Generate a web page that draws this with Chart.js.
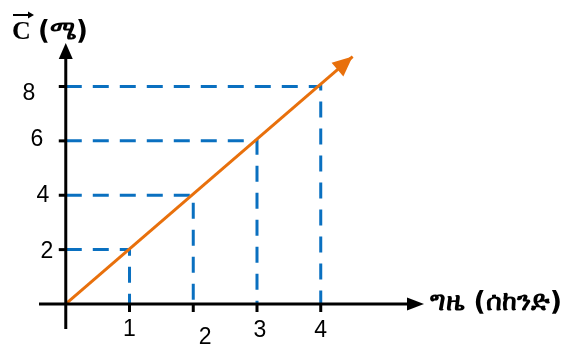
<!DOCTYPE html>
<html>
<head>
<meta charset="utf-8">
<script src="https://cdn.jsdelivr.net/npm/chart.js@4.4.0/dist/chart.umd.min.js"></script>
<style>
  html, body { margin: 0; padding: 0; background: #fff; }
  #wrap { width: 573px; height: 350px; }
</style>
</head>
<body>
<div id="wrap"><canvas id="myChart" width="573" height="350"></canvas></div>
<script>
// ticks on each axis
var xTicks = [1, 2, 3, 4];
var yTicks = [2, 4, 6, 8];
var xTickLabels = ["1", "2", "3", "4"];
var yTickLabels = ["2", "4", "6", "8"];

// the orange line (start, arrow tip)
var lineX = [0, 4.5];
var lineY = [0, 9.1];

var xTitle = "ግዜ (ሰከንድ)";
var yTitleUnit = "(ሜ)";

var orange = '#e8700c';
var blue = '#0a70c0';

// dashed guides: from the y axis over to the point, then down to the x axis
var guideSets = xTicks.map(function (x, i) {
    return {
        data: [{x: 0, y: yTicks[i]}, {x: x, y: yTicks[i]}, {x: x, y: 0}],
        borderColor: blue,
        borderWidth: 3,
        borderDash: [16, 11],
        pointRadius: 0,
        tension: 0,
        order: 2
    };
});

var lineSet = {
    data: lineX.map(function (x, i) { return {x: x, y: lineY[i]}; }),
    borderColor: orange,
    borderWidth: 3,
    pointRadius: 0,
    order: 1
};

function arrowHead(ctx, x1, y1, x2, y2, len, half, color) {
    var a = Math.atan2(y2 - y1, x2 - x1);
    ctx.save();
    ctx.fillStyle = color;
    ctx.beginPath();
    ctx.moveTo(x2, y2);
    ctx.lineTo(x2 - len * Math.cos(a) + half * Math.sin(a), y2 - len * Math.sin(a) - half * Math.cos(a));
    ctx.lineTo(x2 - len * Math.cos(a) - half * Math.sin(a), y2 - len * Math.sin(a) + half * Math.cos(a));
    ctx.closePath();
    ctx.fill();
    ctx.restore();
}

// label nudges (pixels) so the numbers sit like in the drawing
var yLabelShift = [[-19, 2], [-23, 0], [-29, -1], [-37, 7]];
var xLabelShift = [[0, 26], [12, 34], [3, 27], [0, 27]];

var axesPlugin = {
    id: 'axes',
    afterDatasetsDraw: function (chart) {
        var ctx = chart.ctx;
        var xs = chart.scales.x, ys = chart.scales.y;
        var ox = xs.getPixelForValue(0), oy = ys.getPixelForValue(0);
        var a = chart.chartArea;

        ctx.save();
        ctx.strokeStyle = '#000';
        ctx.lineWidth = 3;
        ctx.lineCap = 'butt';

        // x axis
        ctx.beginPath();
        ctx.moveTo(a.left, oy);
        ctx.lineTo(a.right - 12, oy);
        ctx.stroke();
        arrowHead(ctx, a.left, oy, a.right, oy, 17, 6.5, '#000');

        // y axis
        ctx.beginPath();
        ctx.moveTo(ox, a.bottom);
        ctx.lineTo(ox, a.top + 12);
        ctx.stroke();
        arrowHead(ctx, ox, a.bottom, ox, a.top, 16, 7, '#000');

        // tick marks
        yTicks.forEach(function (v) {
            var py = ys.getPixelForValue(v);
            ctx.beginPath();
            ctx.moveTo(ox - 7, py);
            ctx.lineTo(ox, py);
            ctx.stroke();
        });
        xTicks.forEach(function (v) {
            var px = xs.getPixelForValue(v);
            ctx.beginPath();
            ctx.moveTo(px, oy);
            ctx.lineTo(px, oy + 8);
            ctx.stroke();
        });

        // tick labels
        ctx.fillStyle = '#000';
        ctx.font = '23px "Liberation Sans", Arial, sans-serif';
        ctx.textAlign = 'center';
        ctx.textBaseline = 'middle';
        yTicks.forEach(function (v, i) {
            ctx.fillText(yTickLabels[i], ox + yLabelShift[i][0], ys.getPixelForValue(v) + yLabelShift[i][1]);
        });
        xTicks.forEach(function (v, i) {
            ctx.fillText(xTickLabels[i], xs.getPixelForValue(v) + xLabelShift[i][0], oy + xLabelShift[i][1]);
        });

        // orange arrow head
        var p0 = chart.getDatasetMeta(chart.data.datasets.length - 1).data;
        var s = p0[p0.length - 2], e = p0[p0.length - 1];
        arrowHead(ctx, s.x, s.y, e.x, e.y, 20, 9, orange);

        // axis titles
        ctx.textAlign = 'left';
        ctx.font = 'bold 27px "DejaVu Sans", "Noto Sans", sans-serif';
        ctx.fillText(xTitle, a.right + 6, oy - 1);

        ctx.font = 'bold 26px "Liberation Serif", serif';
        ctx.fillText('C', 12, 32);
        ctx.lineWidth = 2;
        ctx.beginPath();
        ctx.moveTo(13, 15);
        ctx.lineTo(30, 15);
        ctx.stroke();
        arrowHead(ctx, 13, 15, 34, 15, 6, 3.5, '#000');
        ctx.font = 'bold 26px "DejaVu Sans", "Noto Sans", sans-serif';
        ctx.fillText(yTitleUnit, 38, 32);
        ctx.restore();
    }
};

var ctx = document.getElementById('myChart').getContext('2d');

var myChart = new Chart(ctx, {
    type: 'line',
    data: { datasets: guideSets.concat([lineSet]) },
    options: {
        responsive: false,
        animation: false,
        devicePixelRatio: 1,
        layout: { autoPadding: false, padding: { left: 39, right: 149, top: 43, bottom: 21 } },
        plugins: { legend: { display: false }, tooltip: { enabled: false } },
        scales: {
            x: { type: 'linear', min: -0.42, max: 5.62, display: false },
            y: { type: 'linear', min: -0.92, max: 9.6, display: false }
        }
    },
    plugins: [axesPlugin]
});
</script>
</body>
</html>
